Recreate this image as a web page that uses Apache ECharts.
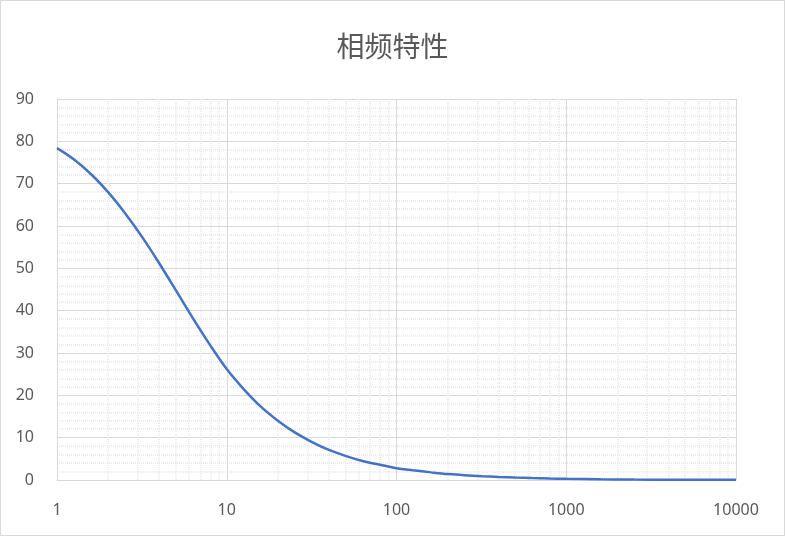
<!DOCTYPE html>
<html>
<head>
<meta charset="utf-8">
<script src="https://cdn.jsdelivr.net/npm/echarts@6/dist/echarts.min.js"></script>
<style>
html,body{margin:0;padding:0;background:#fff;}
#c{width:783px;height:534px;border:1px solid #d9d9d9;}
</style>
</head>
<body>
<div id="c"></div>
<script>
const titleText = '相频特性';
const freq = [1, 1.25, 1.6, 2, 2.5, 3.2, 4, 5, 6.3, 8, 10, 12.5, 16, 20, 25, 32, 40, 50, 63, 80, 100, 125, 160, 200, 250, 320, 400, 500, 630, 800, 1000, 1600, 2500, 4000, 6300, 10000];
const phase = [78.4, 75.8, 72.1, 68.0, 63.2, 57.2, 51.2, 44.9, 38.3, 31.8, 26.2, 21.6, 17.2, 14.0, 11.3, 8.9, 7.1, 5.7, 4.5, 3.6, 2.8, 2.3, 1.8, 1.4, 1.15, 0.9, 0.72, 0.57, 0.45, 0.36, 0.29, 0.18, 0.11, 0.07, 0.05, 0.03];
const decades = [1, 10, 100, 1000];
const minorSteps = [2, 3, 4, 5, 6, 7, 8, 9];

const minorX = [];
decades.forEach(d => minorSteps.forEach(m => minorX.push({ xAxis: d * m })));

const chart = echarts.init(document.getElementById('c'));
const fontFam = '"Noto Sans", "Noto Sans CJK SC", sans-serif';
chart.setOption({
  animation: false,
  title: {
    text: titleText,
    left: 'center',
    top: 22,
    textStyle: { fontSize: 28, fontWeight: 'normal', color: '#595959', fontFamily: '"Noto Sans CJK SC", sans-serif', lineHeight: 36 }
  },
  grid: { left: 56, right: 48, top: 98, bottom: 55 },
  xAxis: {
    type: 'log',
    logBase: 10,
    min: 1,
    max: 10000,
    axisLine: { show: true, lineStyle: { color: '#d9d9d9', width: 1 } },
    axisTick: { show: false },
    axisLabel: { color: '#595959', fontSize: 16, margin: 22, fontFamily: fontFam, formatter: v => String(Math.round(v)) },
    splitLine: { show: true, lineStyle: { color: '#d9d9d9', width: 1 } }
  },
  yAxis: {
    type: 'value',
    min: 0,
    max: 90,
    interval: 10,
    axisLine: { show: true, lineStyle: { color: '#d9d9d9', width: 1 } },
    axisTick: { show: false },
    axisLabel: { color: '#595959', fontSize: 16, margin: 23, fontFamily: fontFam },
    splitLine: { show: true, lineStyle: { color: '#d9d9d9', width: 1 } },
    minorTick: { show: false, splitNumber: 5 },
    minorSplitLine: { show: true, lineStyle: { color: '#e8e8e8', width: 1.5, type: [1, 1] } }
  },
  series: [
    {
      type: 'line',
      data: [],
      silent: true,
      z: 1,
      markLine: {
        silent: true,
        symbol: ['none', 'none'],
        label: { show: false },
        animation: false,
        lineStyle: { color: '#e8e8e8', width: 1.5, type: [1, 1] },
        data: minorX
      }
    },
    {
      type: 'line',
      data: freq.map((f, i) => [f, phase[i]]),
      smooth: 0.35,
      showSymbol: false,
      symbol: 'none',
      z: 5,
      lineStyle: { color: '#4472C4', width: 2.5 }
    }
  ]
});
</script>
</body>
</html>
